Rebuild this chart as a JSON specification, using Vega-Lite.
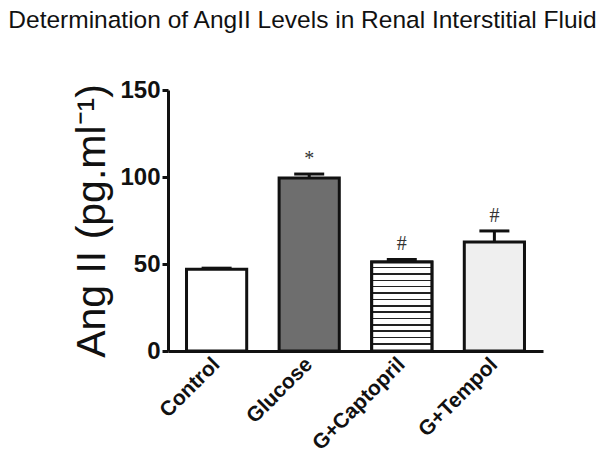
{
  "$schema": "https://vega.github.io/schema/vega-lite/v6.json",
  "autosize": "none",
  "width": 375,
  "height": 261,
  "padding": {"left": 168, "top": 90, "right": 61, "bottom": 112},
  "background": "white",
  "config": {"view": {"stroke": null}},
  "title": {
    "text": "Determination of AngII Levels in Renal Interstitial Fluid",
    "font": "Liberation Sans",
    "fontSize": 24.5,
    "fontWeight": "normal",
    "color": "#111",
    "anchor": "middle",
    "dx": -53,
    "baseline": "bottom",
    "offset": 21
  },
  "data": {
    "values": [
      {"group": "Control", "value": 47.0, "upper": 47.6, "sig": ""},
      {"group": "Glucose", "value": 99.4, "upper": 101.7, "sig": "*"},
      {"group": "G+Captopril", "value": 51.1, "upper": 52.6, "sig": "#"},
      {"group": "G+Tempol", "value": 62.6, "upper": 69.0, "sig": "#"}
    ]
  },
  "encoding": {
    "x": {
      "field": "group",
      "type": "nominal",
      "sort": ["Control", "Glucose", "G+Captopril", "G+Tempol"],
      "scale": {"domain": ["Control", "Glucose", "G+Captopril", "G+Tempol"], "paddingInner": 0.35, "paddingOuter": 0.2},
      "axis": {
        "title": null,
        "labelAngle": -45,
        "labelAlign": "right",
        "labelBaseline": "middle",
        "labelFont": "Liberation Sans",
        "labelFontWeight": "bold",
        "labelFontSize": 21,
        "labelColor": "#111",
        "labelPadding": 10,
        "ticks": false,
        "domainColor": "#111",
        "domainWidth": 3
      }
    }
  },
  "layer": [
    {
      "mark": {"type": "bar", "stroke": "#111", "strokeWidth": 3},
      "encoding": {
        "y": {
          "field": "value",
          "type": "quantitative",
          "scale": {"domain": [0, 150], "nice": false},
          "axis": {
            "values": [0, 50, 100, 150],
            "grid": false,
            "title": "Ang II (pg.ml⁻¹)",
            "titleFont": "Liberation Sans",
            "titleFontSize": 41,
            "titleFontWeight": "normal",
            "titleColor": "#111",
            "titlePadding": 6,
            "labelFont": "Liberation Sans",
            "labelFontWeight": "bold",
            "labelFontSize": 24,
            "labelColor": "#111",
            "labelPadding": 2,
            "tickSize": 6,
            "tickWidth": 3,
            "tickColor": "#111",
            "domainColor": "#111",
            "domainWidth": 3
          }
        },
        "fill": {
          "field": "group",
          "type": "nominal",
          "scale": {"domain": ["Control", "Glucose", "G+Captopril", "G+Tempol"], "range": ["#ffffff", "#6e6e6e", "#ffffff", "#efefef"]},
          "legend": null
        }
      }
    },
    {
      "transform": [{"filter": "datum.group === 'G+Captopril'"}],
      "mark": {
        "type": "bar",
        "stroke": "#111",
        "strokeWidth": 3,
        "fill": {
          "gradient": "linear", "x1": 0, "y1": 0, "x2": 0, "y2": 1,
          "stops": [
            {"offset": 0, "color": "#ffffff"}, {"offset": 0.0536, "color": "#ffffff"}, {"offset": 0.0536, "color": "#222222"}, {"offset": 0.0714, "color": "#222222"},
            {"offset": 0.0714, "color": "#ffffff"}, {"offset": 0.125, "color": "#ffffff"}, {"offset": 0.125, "color": "#222222"}, {"offset": 0.1429, "color": "#222222"},
            {"offset": 0.1429, "color": "#ffffff"}, {"offset": 0.1964, "color": "#ffffff"}, {"offset": 0.1964, "color": "#222222"}, {"offset": 0.2143, "color": "#222222"},
            {"offset": 0.2143, "color": "#ffffff"}, {"offset": 0.2679, "color": "#ffffff"}, {"offset": 0.2679, "color": "#222222"}, {"offset": 0.2857, "color": "#222222"},
            {"offset": 0.2857, "color": "#ffffff"}, {"offset": 0.3393, "color": "#ffffff"}, {"offset": 0.3393, "color": "#222222"}, {"offset": 0.3571, "color": "#222222"},
            {"offset": 0.3571, "color": "#ffffff"}, {"offset": 0.4107, "color": "#ffffff"}, {"offset": 0.4107, "color": "#222222"}, {"offset": 0.4286, "color": "#222222"},
            {"offset": 0.4286, "color": "#ffffff"}, {"offset": 0.4821, "color": "#ffffff"}, {"offset": 0.4821, "color": "#222222"}, {"offset": 0.5, "color": "#222222"},
            {"offset": 0.5, "color": "#ffffff"}, {"offset": 0.5536, "color": "#ffffff"}, {"offset": 0.5536, "color": "#222222"}, {"offset": 0.5714, "color": "#222222"},
            {"offset": 0.5714, "color": "#ffffff"}, {"offset": 0.625, "color": "#ffffff"}, {"offset": 0.625, "color": "#222222"}, {"offset": 0.6429, "color": "#222222"},
            {"offset": 0.6429, "color": "#ffffff"}, {"offset": 0.6964, "color": "#ffffff"}, {"offset": 0.6964, "color": "#222222"}, {"offset": 0.7143, "color": "#222222"},
            {"offset": 0.7143, "color": "#ffffff"}, {"offset": 0.7679, "color": "#ffffff"}, {"offset": 0.7679, "color": "#222222"}, {"offset": 0.7857, "color": "#222222"},
            {"offset": 0.7857, "color": "#ffffff"}, {"offset": 0.8393, "color": "#ffffff"}, {"offset": 0.8393, "color": "#222222"}, {"offset": 0.8571, "color": "#222222"},
            {"offset": 0.8571, "color": "#ffffff"}, {"offset": 0.9107, "color": "#ffffff"}, {"offset": 0.9107, "color": "#222222"}, {"offset": 0.9286, "color": "#222222"},
            {"offset": 0.9286, "color": "#ffffff"}, {"offset": 1, "color": "#ffffff"}
          ]
        }
      },
      "encoding": {"y": {"field": "value", "type": "quantitative"}}
    },
    {
      "mark": {"type": "rule", "stroke": "#111", "strokeWidth": 3},
      "encoding": {
        "y": {"field": "value", "type": "quantitative"},
        "y2": {"field": "upper"}
      }
    },
    {
      "mark": {"type": "tick", "color": "#111", "size": 30, "thickness": 3, "opacity": 1},
      "encoding": {"y": {"field": "upper", "type": "quantitative"}}
    },
    {
      "mark": {"type": "text", "font": "Liberation Serif", "fontSize": 20, "color": "#333", "baseline": "bottom", "dy": -5},
      "encoding": {
        "y": {"field": "upper", "type": "quantitative"},
        "text": {"field": "sig"}
      }
    }
  ]
}
